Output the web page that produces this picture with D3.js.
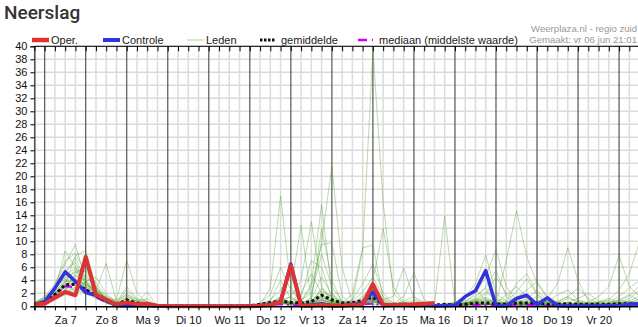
<!DOCTYPE html>
<html>
<head>
<meta charset="utf-8">
<script src="https://cdn.jsdelivr.net/npm/d3@7"></script>
<style>
  body { margin: 0; background: #fff; }
  svg { display: block; font-family: Arial, "Liberation Sans", sans-serif; }
</style>
</head>
<body>
<div id="chart"></div>
<script>
// neerslag pluim, 6-uurs waarden vanaf vr 6 jun 18:00
var startTime = new Date(2025, 5, 6, 18);
var stepHours = 6;
var nSteps = 60;

var dayLabels = ["Za 7", "Zo 8", "Ma 9", "Di 10", "Wo 11", "Do 12", "Vr 13",
  "Za 14", "Zo 15", "Ma 16", "Di 17", "Wo 18", "Do 19", "Vr 20"];
var yTicks = d3.range(0, 41, 2);

// operationele run (10 dagen)
var oper = [0.3,0.4,1.3,2.2,1.7,7.6,1.8,1.0,0.3,0.6,0.3,0.4, 0.1,0,0,0,0,0,0,0,0,
  0,0.1,0.2,0.7,6.3,0.1,0.1,0.2,0.1,0.1,0.2,0.3,3.4,0.2,0.2,0.2,0.3,0.4,0.5];

// controle run
var controle = [0.2,0.7,2.8,5.3,3.8,2.1,1.7,0.9,0.1,0.1,0.1,0.1, 0,0,0,0,0,0,0,0,0,
  0,0.1,0.3,0.7,6.5,0.1,0.2,0.4,0.1,0.1,0.3,0.5,2.2,0.1,0.2,0.2,0.1,0.2,0.1,
  0.1,0.15,1.5,2.4,5.5,0.1,0.05,1.2,1.7,0.25,1.3,0.1,0.05,0.05,0.05,0.05,0.1,0.1,0.3,0.4];

var gemiddelde = [0.3,0.6,1.8,3.3,3.4,2.6,1.6,0.8,0.2,1.0,0.5,0.3, 0.1,0.05,0.05,0.05,0.05,0.05,0.05,0.05,0.05,
  0.1,0.3,0.6,0.8,0.6,0.5,0.7,1.7,1.0,0.5,0.55,0.9,1.4,0.25,0.3,0.3,0.3,0.2,0.2,
  0.3,0.2,0.3,0.5,0.5,0.4,0.3,0.5,0.5,0.5,0.3,0.3,0.4,0.3,0.3,0.3,0.3,0.4,0.4,0.4];

var mediaan = [0.3,0.5,1.6,3.1,2.9,2.6,1.4,0.6,0.1,0.5,0.2,0.1, 0,0,0,0,0,0,0,0,0,
  0,0.1,0.2,0.3,0.2,0.1,0.2,0.4,0.2,0.1,0.2,0.3,0.4,0.1,0.1,0.1,0.1,0.1,0.1,
  0.1,0.1,0.1,0.2,0.2,0.1,0.1,0.2,0.2,0.2,0.1,0.1,0.1,0.1,0.1,0.1,0.1,0.2,0.2,0.2];

// ensemble leden
var leden = [
  [0.4,1.0,3.2,6.5,9.5,4.0,1.8,0.6,0.2,0.9,0.4,0.2, 0,0,0,0,0,0,0,0,0, 0,0.1,0.4,1.2,0.6,0.2,0.5,1.8,0.9,0.3,0.2,0.6,1.1,0.4,0.1,0.2,0.4,0.2,0.1, 0.1,0.2,0.4,0.3,0.6,0.2,0.1,0.3,0.5,0.2,0.1,0.3,0.2,0.4,0.1,0,0.2,0.5,0.3,0.6],
  [0.3,0.8,2.5,8.5,6.0,3.5,2.5,6.6,0.8,0.4,0.2,0.1, 0,0,0,0,0,0,0.1,0,0, 0,0.2,0.3,0.8,1.5,0.4,0.2,0.6,0.3,0.1,0.5,0.8,0.3,0.2,0,0.1,0.3,0.1,0, 0,0.1,0.6,1.2,0.5,0.3,0.2,0.1,0,0.4,0.8,0.3,0.1,0,0.1,0.2,0.4,0.2,0.1,0.3],
  [0.2,0.6,1.8,3.0,4.5,5.5,3.0,1.2,1.0,7.1,2.0,0.5, 0,0,0,0,0,0,0,0,0, 0,0,0.2,0.5,0.3,0.1,0.8,2.5,1.2,0.4,0.3,0.5,0.9,0.6,0.2,0.1,0.2,0.1,0.1, 0.2,0.5,0.3,0.2,0.1,0.4,0.6,0.2,0.1,0.3,0.2,0.1,0.5,0.3,0.2,0.1,0.3,0.6,0.8,0.4],
  [0.5,1.4,2.8,4.2,3.5,2.2,1.5,0.7,0.3,1.5,0.8,0.4, 0,0,0,0,0,0,0,0,0, 0.1,0.3,2.8,17.0,3.0,0.6,0.4,1.0,0.5,0.2,0.3,0.4,0.8,0.3,0.1,0.2,0.1,0.2,0, 0.1,0,0.2,0.1,0.3,0.2,0.1,0.4,0.2,0.1,0.2,0.5,0.3,0.1,0.2,0.1,0.1,0.3,0.2,0.1],
  [0.3,0.7,1.5,2.5,5.0,6.5,2.8,1.0,0.4,0.6,0.3,0.2, 0,0,0,0,0,0,0,0,0, 0,0.2,0.6,1.0,0.5,0.8,3.5,15.7,2.0,0.6,0.3,0.4,0.7,0.3,0.2,0.1,0.3,0.1,0.2, 0.3,0.2,0.5,0.8,1.4,0.6,0.2,0.1,0.3,0.6,0.4,0.2,0.1,0.1,0.2,0.3,0.1,0.2,0.4,0.2],
  [0.2,0.5,1.2,2.0,2.8,3.5,2.0,1.0,0.5,0.8,0.6,1.2, 0,0,0,0,0,0,0,0,0, 0,0.1,0.3,0.6,0.4,0.3,1.5,10.0,21.5,6.0,0.5,0.3,0.6,0.2,0.1,0.3,0.2,0.1,0.1, 0,0.1,0.3,0.2,0.4,0.3,0.5,0.2,0.1,0.2,0.1,0.3,0.6,0.2,0.1,0.3,0.5,1.0,0.6,0.3],
  [0.4,0.9,2.2,4.0,3.2,2.6,1.7,0.9,0.3,0.7,0.4,0.3, 0,0,0,0,0,0,0,0,0, 0,0.2,0.4,0.9,0.5,0.3,0.6,1.2,0.8,0.5,0.9,8.6,39.5,16.0,2.0,0.4,0.2,0.1,0.1, 0.2,0.1,0.3,0.5,0.3,0.2,0.4,0.6,0.3,0.1,0.2,0.4,0.2,0.1,0.3,0.2,0.1,0.2,0.3,0.5],
  [0.3,0.6,1.6,3.3,4.8,3.0,2.2,1.4,0.6,2.5,1.0,0.6, 0,0,0,0,0,0,0,0,0, 0,0.1,0.5,1.5,2.5,12.5,0.8,2.2,1.5,0.6,1.8,9.0,9.4,1.2,0.3,0.5,0.2,0.1,0.2, 0.1,0.2,0.1,0.3,0.2,0.5,0.3,0.2,0.4,0.3,0.1,0.2,0.4,0.6,0.3,0.2,0.4,0.3,0.2,0.1],
  [0.2,0.5,1.4,2.6,3.8,4.2,2.5,1.1,0.2,0.5,0.2,0.1, 0,0,0,0,0,0,0,0,0, 0,0,0.2,0.4,0.3,0.2,0.4,0.9,0.6,0.3,0.5,0.8,1.6,0.5,0.2,0.6,0.9,0.4,0.2, 13.9,0.3,0.4,0.6,0.9,0.5,0.2,0.3,0.6,0.4,0.2,0.1,0.3,0.5,0.2,0.1,0.2,0.4,0.6,0.3],
  [0.3,0.8,2.0,3.6,5.8,2.4,1.3,0.5,0.1,0.3,0.2,0.1, 0,0,0,0,0,0,0,0,0, 0,0.1,0.3,0.7,0.4,0.2,0.3,0.8,0.5,0.2,0.4,0.5,0.9,0.4,0.2,0.3,0.2,0.1,0.1, 0.2,0.3,0.5,0.8,1.2,0.5,7.0,14.7,7.6,3.6,1.2,0.6,0.3,0.2,0.1,0.3,0.2,0.1,0.2,0.4],
  [0.5,1.1,2.4,5.0,7.5,3.8,2.0,0.8,0.3,0.6,0.3,0.2, 0,0,0,0,0,0,0,0,0, 0,0.2,0.4,0.6,0.8,0.3,0.5,1.4,0.7,0.2,0.3,0.6,1.0,0.3,0.1,0.2,0.3,0.5,0.2, 0.1,0.3,0.6,2.0,4.5,8.8,3.0,1.0,0.5,0.8,1.2,3.5,9.0,4.0,0.8,0.3,0.2,0.5,0.3,0.2],
  [0.2,0.4,1.0,1.8,2.5,2.0,1.2,0.6,0.2,0.4,0.2,0.1, 0,0,0,0,0,0,0,0,0, 0,0,0.1,0.3,0.5,0.4,0.2,0.6,0.4,0.1,0.2,0.4,0.7,0.2,0.1,0.2,0.1,0.3,0.2, 0.4,0.6,1.5,3.5,7.9,2.0,0.8,0.4,0.3,0.6,0.2,0.5,1.2,0.8,0.6,1.5,3.0,7.9,3.0,1.5],
  [0.6,1.5,3.5,7.0,8.2,5.0,2.5,1.3,0.5,2.0,0.7,0.4, 0,0,0,0,0,0,0,0,0, 0,0.1,0.3,0.6,0.3,0.2,0.4,1.1,0.5,0.3,0.4,0.8,1.5,1.0,1.5,5.9,1.2,0.4,0.2, 0.2,0.1,0.3,0.5,0.2,0.4,0.6,0.3,0.2,0.4,0.8,0.5,0.3,0.2,0.4,0.6,1.0,2.5,5.0,10.0],
  [0.3,0.7,1.9,3.8,4.0,2.8,1.6,0.8,0.4,1.2,0.5,0.3, 0,0,0,0,0,0,0,0,0, 0,0.2,0.5,0.8,1.5,4.0,13.0,3.0,0.8,0.4,0.3,0.6,0.9,0.4,0.3,1.5,5.2,1.0,0.3, 0.2,0.4,0.3,0.6,1.0,0.4,0.2,0.5,0.8,1.5,0.6,0.3,0.2,0.1,0.3,0.5,0.4,0.2,0.6,0.9],
  [0.4,1.0,2.6,4.6,6.0,4.5,3.0,1.5,0.5,0.8,0.4,0.2, 0,0,0,0,0,0,0,0,0, 0.1,0.3,1.0,2.5,5.0,1.0,2.0,8.0,3.0,0.8,0.5,1.2,4.0,12.0,3.0,0.6,0.3,0.2,0.1, 0.1,0.2,0.3,0.2,0.4,0.3,0.2,0.1,0.3,0.5,0.3,0.2,0.1,0.2,0.3,0.2,0.4,0.6,0.3,0.2],
  [0.2,0.5,1.3,2.2,3.0,3.8,4.5,2.0,0.6,3.0,1.2,0.8, 0,0,0,0,0,0.1,0,0,0, 0,0.1,0.3,0.5,0.2,0.6,3.0,9.5,9.8,1.5,0.4,0.9,2.5,0.8,0.2,0.3,0.5,0.2,0.1, 0.1,0.2,0.4,0.7,0.3,0.5,1.8,3.0,1.5,0.6,0.4,0.8,1.5,0.6,0.3,0.2,0.5,1.0,1.8,0.8],
  [0.3,0.9,2.9,5.5,6.8,3.2,2.0,1.0,0.3,1.6,0.6,0.2, 0,0,0,0,0,0,0,0,0, 0,0.3,0.8,4.0,1.2,0.5,1.0,12.0,4.0,0.6,0.3,0.5,1.8,0.5,0.2,0.4,0.2,0.3,0.2, 0.3,0.5,0.8,1.6,2.8,1.0,0.4,0.3,0.6,1.0,0.5,0.3,0.6,1.2,2.0,0.8,0.4,0.3,0.5,1.2],
  [0.5,1.3,3.0,4.4,5.2,6.0,3.5,1.6,0.8,1.8,1.0,0.5, 0,0,0,0,0,0,0,0,0, 0.1,0.4,0.6,1.0,0.4,0.3,0.7,1.5,0.6,0.3,1.0,3.5,6.5,2.0,0.4,0.2,0.3,0.1,0.1, 0.1,0.1,0.2,0.4,0.6,1.2,0.8,3.5,5.0,2.0,0.6,0.3,0.2,0.4,0.3,0.6,0.8,0.5,1.2,2.5],
  [0.2,0.6,1.7,2.9,3.6,3.0,1.9,1.2,0.4,0.5,0.3,0.2, 0,0,0,0,0,0,0,0,0, 0,0,0.2,0.5,0.8,2.0,5.0,2.0,0.5,0.2,0.6,1.5,3.0,1.0,0.3,0.2,0.1,0.2,0.1, 0.2,0.3,0.2,0.5,0.3,0.2,0.6,1.4,2.5,3.8,1.5,0.6,0.3,0.2,0.1,0.2,0.6,1.5,2.8,4.0],
  [0.4,0.8,2.1,3.4,7.8,8.6,3.0,1.0,0.2,0.4,0.2,0.1, 0,0,0,0,0,0,0,0,0, 0,0.2,0.4,0.7,0.3,0.2,0.6,2.8,1.5,0.4,0.3,0.4,0.8,0.3,0.1,0.2,0.1,0.1,0, 0.1,0.2,0.5,0.9,1.8,4.5,2.0,0.8,0.5,0.3,0.6,1.8,2.5,1.0,0.4,0.2,0.3,0.5,0.8,1.6],
  [0.3,0.7,2.0,3.1,2.4,2.6,1.8,0.9,0.4,0.8,0.6,2.2, 0,0,0,0,0,0,0,0,0, 0,0.1,0.4,0.6,0.2,0.4,1.2,4.5,1.8,0.6,0.8,2.2,4.5,1.5,0.5,0.6,0.4,0.2,0.1, 0.1,0.2,0.3,1.0,2.2,1.0,0.5,0.6,1.2,2.4,1.0,0.4,0.2,0.3,0.5,0.4,0.3,0.2,0.4,0.7],
  [0.5,1.2,2.7,4.9,3.8,3.4,2.3,1.1,0.5,1.1,0.5,0.3, 0,0,0,0,0,0,0,0,0, 0.1,0.5,1.8,6.0,2.5,0.6,0.8,1.6,0.8,0.4,0.6,1.0,1.6,0.6,0.3,0.4,0.2,0.3,0.2, 0.2,0.4,0.6,0.4,0.8,0.5,0.3,0.6,1.0,0.5,0.3,0.6,1.5,2.8,1.2,0.5,0.3,0.4,0.6,0.3],
  [0.2,0.5,1.1,2.3,4.2,3.3,2.6,1.3,0.3,0.6,0.3,0.2, 0,0,0,0,0,0,0,0,0, 0,0.1,0.3,0.9,0.6,1.5,7.0,6.0,1.2,0.3,0.2,0.5,1.2,0.4,0.1,0.1,0.2,0.1,0.1, 0.2,0.3,0.4,1.2,3.0,5.5,1.5,0.5,0.3,0.2,0.4,0.3,0.2,0.4,0.6,0.3,0.2,0.8,1.6,3.2],
  [0.3,0.8,2.3,3.9,5.4,4.1,1.5,0.7,0.2,0.9,0.4,0.3, 0,0,0,0,0,0,0,0,0, 0,0.2,0.5,1.4,0.5,0.3,0.5,1.0,0.4,0.2,0.4,0.7,1.3,0.5,0.2,0.8,1.5,0.6,0.3, 0.3,0.6,1.4,2.6,1.0,0.4,0.6,2.2,4.2,1.8,0.6,0.4,0.3,0.2,0.4,0.7,1.2,0.6,0.3,0.5]
];

// afmetingen
var W = 638, H = 327;
var plot = { left: 34.4, top: 46.3, bottom: 306.3, right: 639.6 };

var endTime = d3.timeHour.offset(startTime, stepHours * (nSteps - 1));
var x = d3.scaleTime().domain([startTime, endTime]).range([plot.left, plot.right]);
var y = d3.scaleLinear().domain([0, 40]).range([plot.bottom, plot.top]);

function t(i) { return d3.timeHour.offset(startTime, stepHours * i); }

var svg = d3.select("#chart").append("svg")
  .attr("width", W)
  .attr("height", H);

// titel
svg.append("text")
  .attr("x", 4).attr("y", 18.5)
  .style("font-family", "Roboto, Arial, sans-serif")
  .style("font-size", "19px")
  .style("font-weight", "500")
  .attr("fill", "#333")
  .text("Neerslag");

svg.append("text")
  .attr("x", 637).attr("y", 32)
  .attr("text-anchor", "end")
  .style("font-size", "9.6px")
  .attr("fill", "#999")
  .text("Weerplaza.nl - regio zuid");
svg.append("text")
  .attr("x", 637).attr("y", 43)
  .attr("text-anchor", "end")
  .style("font-size", "9.6px")
  .attr("fill", "#999")
  .text("Gemaakt: vr 06 jun 21:01");

// grid
var grid = svg.append("g");
var sixHours = d3.timeHour.every(6).range(startTime, d3.timeHour.offset(endTime, 1));
var midnights = d3.timeDay.range(startTime, d3.timeHour.offset(endTime, 1));

grid.selectAll(".hg").data(yTicks.slice(1)).enter().append("line")
  .attr("x1", plot.left).attr("x2", W)
  .attr("y1", d => y(d)).attr("y2", d => y(d))
  .attr("stroke", "#dcdcdc").attr("stroke-width", 1.5);

grid.selectAll(".vg").data(sixHours.filter(d => d.getHours() != 0)).enter().append("line")
  .attr("x1", d => x(d)).attr("x2", d => x(d))
  .attr("y1", plot.top).attr("y2", plot.bottom)
  .attr("stroke", "#dcdcdc").attr("stroke-width", 1.5);

grid.selectAll(".dg").data(midnights).enter().append("line")
  .attr("x1", d => x(d)).attr("x2", d => x(d))
  .attr("y1", plot.top).attr("y2", plot.bottom)
  .attr("stroke", "#555").attr("stroke-width", 1.2);

// lijnen
var line = d3.line()
  .x((d, i) => x(t(i)))
  .y(d => y(d));

svg.append("clipPath").attr("id", "clip")
  .append("rect")
  .attr("x", plot.left).attr("y", plot.top - 3)
  .attr("width", W - plot.left).attr("height", plot.bottom - plot.top + 8);

var lines = svg.append("g").attr("clip-path", "url(#clip)");

lines.selectAll(".lid").data(leden).enter().append("path")
  .attr("d", line)
  .attr("fill", "none")
  .attr("stroke", "#4f9e2c")
  .attr("stroke-opacity", 0.38)
  .attr("stroke-width", 1);

lines.append("path").datum(mediaan)
  .attr("d", line)
  .attr("fill", "none")
  .attr("stroke", "#cc00ff")
  .attr("stroke-width", 2)
  .attr("stroke-dasharray", "8,4,2,4");

lines.append("path").datum(gemiddelde)
  .attr("d", line)
  .attr("fill", "none")
  .attr("stroke", "#111")
  .attr("stroke-width", 3)
  .attr("stroke-dasharray", "3,2.5");

lines.append("path").datum(controle)
  .attr("d", line)
  .attr("fill", "none")
  .attr("stroke", "#3333dd")
  .attr("stroke-width", 3.5)
  .attr("stroke-linejoin", "round");

lines.append("path").datum(oper)
  .attr("d", line)
  .attr("fill", "none")
  .attr("stroke", "#dd3333")
  .attr("stroke-width", 4)
  .attr("stroke-linejoin", "round");

// assen
var xAxis = svg.append("g")
  .attr("transform", "translate(0," + plot.bottom + ")")
  .call(d3.axisBottom(x).tickValues(sixHours).tickSize(4).tickFormat(""));
xAxis.select(".domain").attr("stroke-width", 1.5);

var noons = midnights.slice(0, dayLabels.length).map(d => d3.timeHour.offset(d, 12));
svg.append("g")
  .attr("transform", "translate(0," + plot.bottom + ")")
  .call(d3.axisBottom(x).tickValues(noons).tickSize(0).tickPadding(10)
    .tickFormat((d, i) => dayLabels[i]))
  .call(g => g.select(".domain").remove())
  .selectAll("text")
  .style("font-size", "11px")
  .attr("fill", "#111");

var topAxis = svg.append("g")
  .attr("transform", "translate(0," + plot.top + ")")
  .call(d3.axisBottom(x).tickValues(sixHours).tickSize(5).tickFormat(""));
topAxis.select(".domain").attr("d", "M" + plot.left + ",0H" + W);

svg.append("g")
  .attr("transform", "translate(" + plot.left + ",0)")
  .call(d3.axisLeft(y).tickValues(yTicks).tickSize(4).tickPadding(3))
  .selectAll("text")
  .style("font-size", "11px")
  .attr("fill", "#111");

// legenda
var legend = [
  { label: "Oper.", x: 32, color: "#dd3333", width: 4.5, dash: null, opacity: 1 },
  { label: "Controle", x: 103, color: "#3333dd", width: 4, dash: null, opacity: 1 },
  { label: "Leden", x: 187, color: "#4f9e2c", width: 1.2, dash: null, opacity: 0.38 },
  { label: "gemiddelde", x: 260, color: "#111", width: 3, dash: "2.5,1.5", opacity: 1 },
  { label: "mediaan (middelste waarde)", x: 358, color: "#cc00ff", width: 2.5, dash: "9,5,2,5", opacity: 1 }
];
var lg = svg.append("g").selectAll("g").data(legend).enter().append("g");
lg.append("line")
  .attr("x1", d => d.x).attr("x2", d => d.x + (d.dash ? 15 : 17))
  .attr("y1", 40).attr("y2", 40)
  .attr("stroke", d => d.color)
  .attr("stroke-width", d => d.width)
  .attr("stroke-opacity", d => d.opacity)
  .attr("stroke-dasharray", d => d.dash);
lg.append("text")
  .attr("x", d => d.x + (d.label == "gemiddelde" ? 21 : d.label.startsWith("mediaan") ? 21 : 19))
  .attr("y", 44)
  .style("font-size", "11px")
  .attr("fill", "#222")
  .text(d => d.label);
</script>
</body>
</html>
